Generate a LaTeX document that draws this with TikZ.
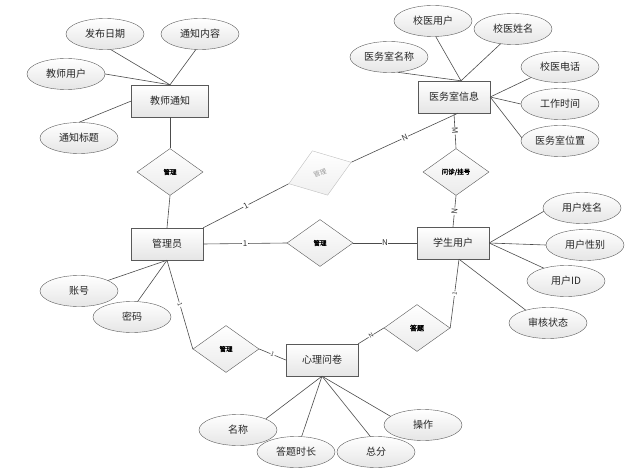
\documentclass[tikz,border=0pt]{standalone}
\usepackage{fontspec}
\setmainfont{Noto Sans CJK SC}[AutoFakeBold=2]
\usetikzlibrary{shapes.geometric,shadows,calc}

\def \attrw {78pt}
\def \attrh {31pt}
\def \relw {66pt}
\def \relh {47pt}

\tikzset{
  entity/.style={draw=black!65, rectangle, minimum width=72pt, minimum height=32pt, inner sep=1pt,
    top color=white, bottom color=black!10, drop shadow={opacity=0.25, shadow xshift=0.8pt, shadow yshift=-0.8pt},
    text=black!85, font=\fontsize{10}{12}\selectfont},
  attr/.style={draw=black!65, ellipse, minimum width=\attrw, minimum height=\attrh, inner sep=0pt,
    top color=white, bottom color=black!10, text=black!85, font=\fontsize{10}{12}\selectfont},
  rel/.style={draw=black!65, diamond, minimum width=\relw, minimum height=\relh, inner sep=0pt,
    top color=white, bottom color=black!8, text=black, font=\fontsize{6.5}{7}\selectfont\bfseries},
  card/.style={fill=white, inner sep=0.6pt, sloped, text=black!80, font=\fontsize{8}{9}\selectfont},
  link/.style={draw=black!70, line width=0.6pt}
}

\begin{document}
\begin{tikzpicture}[x=1pt, y=-1pt]
\useasboundingbox (0,0) rectangle (627,476);

% entities
\node[entity, minimum width=77pt] (notice) at (170,101) {教师通知};
\node[entity] (clinic) at (454,97) {医务室信息};
\node[entity] (admin) at (167,244) {管理员};
\node[entity] (student) at (453,243) {学生用户};
\node[entity] (survey) at (322,360) {心理问卷};

% relations
\node[rel] (mgtnotice) at (170,172) {管理};
\node[rel] (visit) at (456,172) {问诊/挂号};
\node[rel] (mgtstudent) at (320,243) {管理};
\node[rel, rotate=19, draw=black!25, top color=white, bottom color=black!6, text=black!40,
  font=\fontsize{6.5}{7}\selectfont] (mgtclinic) at (320,173) {管理};
\node[rel] (mgtsurvey) at (226,349) {管理};
\node[rel, font=\fontsize{7}{8}\selectfont\bfseries] (answer) at (417,328) {答题};

% attributes of 教师通知
\node[attr] (pubdate) at (105,34) {发布日期};
\node[attr] (content) at (200,34) {通知内容};
\node[attr] (teacher) at (66,74) {教师用户};
\node[attr] (title) at (79,138) {通知标题};

% attributes of 医务室信息
\node[attr] (docuser) at (433,21) {校医用户};
\node[attr] (docname) at (513,29) {校医姓名};
\node[attr] (roomname) at (389,57) {医务室名称};
\node[attr] (docphone) at (560,67) {校医电话};
\node[attr] (worktime) at (560,104) {工作时间};
\node[attr] (roompos) at (560,141) {医务室位置};

% attributes of 学生用户
\node[attr] (stuname) at (582,208) {用户姓名};
\node[attr] (stusex) at (585,245) {用户性别};
\node[attr] (stuid) at (566,281) {用户ID};
\node[attr] (stustate) at (548,323) {审核状态};

% attributes of 管理员
\node[attr] (account) at (79,291) {账号};
\node[attr] (passwd) at (132,317) {密码};

% attributes of 心理问卷
\node[attr] (sname) at (238,430) {名称};
\node[attr] (duration) at (296,452) {答题时长};
\node[attr] (score) at (376,452) {总分};
\node[attr] (operate) at (423,425) {操作};

\coordinate (clinictop) at ($(clinic.north)+(7,0)$);
\coordinate (clinicbot) at ($(clinic.south)+(4,0)$);
\coordinate (stubot) at ($(student.south)+(6,0)$);

% attribute links
\draw[link] (pubdate.-70) -- (notice.north);
\draw[link] (content.-105) -- (notice.north);
\draw[link] (teacher.east) -- (notice.north);
\draw[link] (title.north) -- (notice.west);
\draw[link] (docuser.-80) -- (clinictop);
\draw[link] (docname.-130) -- (clinictop);
\draw[link] (roomname.-60) -- (clinictop);
\draw[link] (docphone.200) -- (clinic.east);
\draw[link] (worktime.west) -- (clinic.east);
\draw[link] (roompos.175) -- (clinic.east);
\draw[link] (stuname.185) -- (student.east);
\draw[link] (stusex.west) -- (student.east);
\draw[link] (stuid.150) -- (student.east);
\draw[link] (stustate.150) -- (stubot);
\draw[link] (account.20) -- (admin.south);
\draw[link] (passwd.70) -- (admin.south);
\draw[link] (sname.north east) -- (survey.south);
\draw[link] (duration.70) -- (survey.south);
\draw[link] (score.110) -- (survey.south);
\draw[link] (operate.165) -- (survey.south);

% relation links
\draw[link] (notice.south) -- (mgtnotice.north);
\draw[link] (mgtnotice.south) -- (admin.north);
\draw[link] (clinic.south) -- node[card] {M} (visit.north);
\draw[link] (visit.south) -- node[card] {N} (student.north);
\draw[link] (admin.east) -- node[card] {1} (mgtstudent.west);
\draw[link] (mgtstudent.east) -- node[card] {N} (student.west);
\draw[link] (admin.north east) -- node[card] {1} (mgtclinic.west);
\draw[link] (mgtclinic.east) -- node[card] {N} (clinicbot);
\draw[link] (admin.south) -- node[card, font=\fontsize{6}{7}\selectfont] {1} (mgtsurvey.west);
\draw[link] (mgtsurvey.east) -- node[card, font=\fontsize{6}{7}\selectfont] {1} (survey.west);
\draw[link] (survey.north east) -- node[card, font=\fontsize{6}{7}\selectfont] {N} (answer.west);
\draw[link] (answer.east) -- node[card, font=\fontsize{6}{7}\selectfont] {1} (stubot);
\end{tikzpicture}
\end{document}
